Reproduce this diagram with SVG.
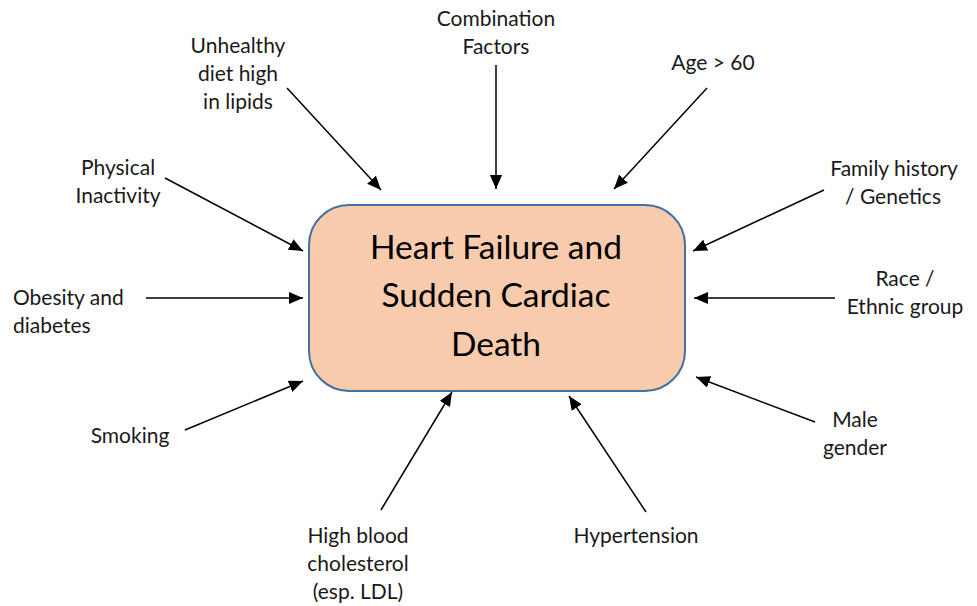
<svg xmlns="http://www.w3.org/2000/svg" width="977" height="606" viewBox="0 0 977 606">
<defs>
<style>
.lbl{font-family:Lato,"Open Sans","Liberation Sans",sans-serif;font-size:21px;fill:#1a1a1a;text-anchor:middle}
.main{font-family:Lato,"Open Sans","Liberation Sans",sans-serif;font-size:33.5px;fill:#000;text-anchor:middle}
.c{stroke:#000;stroke-width:1.5;fill:none;marker-end:url(#ah)}
</style>
<marker id="ah" viewBox="0 0 14 12" refX="14" refY="6" markerWidth="14" markerHeight="12" markerUnits="userSpaceOnUse" orient="auto">
<path d="M0,0 L14,6 L0,12 z" fill="#000"/>
</marker>
</defs>
<rect width="977" height="606" fill="#fff"/>
<g id="center">
<rect x="309" y="205" width="376" height="186" rx="40" ry="40" fill="#F8CBAD" stroke="#41719C" stroke-width="2"/>
<text class="main" x="496" y="259">Heart Failure and</text>
<text class="main" x="496" y="307">Sudden Cardiac</text>
<text class="main" x="496" y="356">Death</text>
</g>
<g id="connectors">
<line class="c" x1="287" y1="88" x2="381" y2="190"/>
<line class="c" x1="496" y1="65" x2="496" y2="189"/>
<line class="c" x1="707" y1="88" x2="614" y2="189"/>
<line class="c" x1="165" y1="178" x2="303" y2="251"/>
<line class="c" x1="824" y1="190" x2="693" y2="251"/>
<line class="c" x1="146" y1="298" x2="303" y2="298"/>
<line class="c" x1="835" y1="298" x2="694" y2="298"/>
<line class="c" x1="185" y1="430" x2="303" y2="381"/>
<line class="c" x1="815" y1="422" x2="696" y2="377"/>
<line class="c" x1="381" y1="510" x2="452" y2="392"/>
<line class="c" x1="646" y1="512" x2="569" y2="396"/>
</g>
<g id="combination"><text class="lbl" x="496" y="26">Combination</text><text class="lbl" x="496" y="54">Factors</text></g>
<g id="unhealthy"><text class="lbl" x="238" y="53">Unhealthy</text><text class="lbl" x="238" y="81">diet high</text><text class="lbl" x="238" y="109">in lipids</text></g>
<g id="age"><text class="lbl" x="713" y="70">Age &gt; 60</text></g>
<g id="physical"><text class="lbl" x="118" y="175">Physical</text><text class="lbl" x="118" y="203">Inactivity</text></g>
<g id="family"><text class="lbl" x="894" y="176">Family history</text><text class="lbl" x="893" y="204">/ Genetics</text></g>
<g id="obesity"><text class="lbl" x="13" y="305" text-anchor="start" style="text-anchor:start">Obesity and</text><text class="lbl" x="13" y="333" style="text-anchor:start">diabetes</text></g>
<g id="race"><text class="lbl" x="905" y="286">Race /</text><text class="lbl" x="905" y="314">Ethnic group</text></g>
<g id="smoking"><text class="lbl" x="130" y="443">Smoking</text></g>
<g id="male"><text class="lbl" x="855" y="427">Male</text><text class="lbl" x="855" y="455">gender</text></g>
<g id="cholesterol"><text class="lbl" x="358" y="543">High blood</text><text class="lbl" x="358" y="571">cholesterol</text><text class="lbl" x="358" y="599">(esp. LDL)</text></g>
<g id="hypertension"><text class="lbl" x="636" y="543">Hypertension</text></g>
</svg>
